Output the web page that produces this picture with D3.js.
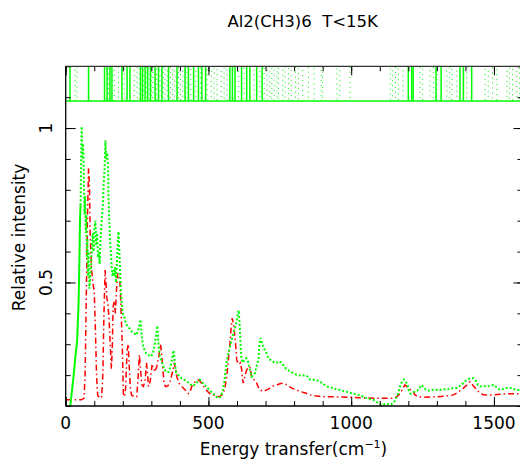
<!DOCTYPE html>
<html>
<head>
<meta charset="utf-8">
<script src="https://cdn.jsdelivr.net/npm/d3@7"></script>
<style>
  html, body { margin: 0; padding: 0; background: #fff; }
  svg { display: block; }
  text { font-family: "DejaVu Sans", sans-serif; fill: #000; }
</style>
</head>
<body>
<svg id="chart" width="520" height="461"></svg>
<script>
// ---------- DATA ----------
const title = "Al2(CH3)6  T<15K";
const xLabel = "Energy transfer(cm";
const xLabelSup = "\u22121";
const yLabel = "Relative intensity";
const xTickValues = [0, 500, 1000, 1500];
const xTickLabels = ["0", "500", "1000", "1500"];
const yTickValues = [0.5, 1];
const yTickLabels = ["0.5", "1"];

// Experimental spectrum (green, dotted)
const expEnergy = [12,16,22,28,34,40,45,48,50,52,54,56,58,60,62,64,66,68,70,72,74,76,78,80,83,86,89,92,95,98,101,104,107,110,113,116,119,122,126,130,133,136,139,142,145,148,150,152,155,158,161,164,167,170,173,176,179,182,185,188,191,194,197,200,205,210,215,220,225,232,240,248,255,262,266,270,276,282,290,298,305,312,318,321,325,330,338,345,352,360,368,374,378,382,387,395,405,415,425,435,447,458,470,480,490,500,510,518,527,535,543,550,556,561,565,570,575,580,586,592,598,603,606,609,612,615,620,626,632,638,645,651,657,663,669,675,679,682,686,692,698,704,710,716,724,732,740,748,756,764,772,780,790,800,812,825,838,848,856,868,880,892,904,916,930,945,960,975,990,1005,1020,1035,1050,1065,1078,1090,1100,1110,1122,1135,1147,1155,1162,1170,1178,1184,1190,1196,1202,1208,1216,1224,1232,1240,1247,1254,1262,1272,1284,1296,1310,1322,1334,1346,1358,1369,1378,1388,1398,1408,1418,1428,1436,1444,1452,1462,1475,1486,1498,1510,1521,1532,1545,1558,1570,1582,1595,1600];
const expIntensity = [0.08,0.10,0.15,0.20,0.26,0.31,0.43,0.57,0.70,0.75,0.88,1.005,0.90,0.95,0.92,0.80,0.72,0.78,0.66,0.72,0.58,0.64,0.52,0.60,0.48,0.52,0.55,0.62,0.66,0.60,0.68,0.70,0.62,0.66,0.58,0.60,0.56,0.64,0.70,0.75,0.82,0.86,0.96,0.90,0.92,0.88,0.78,0.72,0.64,0.60,0.55,0.52,0.54,0.52,0.55,0.50,0.56,0.62,0.665,0.60,0.52,0.46,0.43,0.40,0.39,0.37,0.36,0.355,0.35,0.34,0.335,0.33,0.35,0.38,0.33,0.30,0.28,0.27,0.265,0.26,0.27,0.30,0.34,0.36,0.30,0.26,0.24,0.22,0.21,0.21,0.23,0.26,0.28,0.24,0.21,0.20,0.19,0.185,0.18,0.17,0.165,0.175,0.185,0.175,0.165,0.155,0.145,0.14,0.13,0.125,0.13,0.15,0.18,0.22,0.25,0.27,0.29,0.31,0.33,0.35,0.37,0.40,0.41,0.37,0.31,0.26,0.24,0.25,0.255,0.245,0.22,0.195,0.20,0.207,0.23,0.25,0.30,0.32,0.31,0.29,0.28,0.27,0.255,0.25,0.245,0.24,0.24,0.245,0.24,0.23,0.22,0.215,0.21,0.205,0.20,0.198,0.20,0.195,0.185,0.185,0.183,0.178,0.17,0.163,0.16,0.155,0.152,0.148,0.145,0.14,0.137,0.133,0.127,0.123,0.12,0.112,0.106,0.103,0.108,0.104,0.109,0.12,0.135,0.16,0.18,0.186,0.18,0.172,0.15,0.14,0.143,0.148,0.15,0.16,0.168,0.16,0.152,0.15,0.152,0.153,0.152,0.155,0.153,0.156,0.158,0.158,0.163,0.17,0.18,0.186,0.19,0.19,0.182,0.168,0.163,0.165,0.163,0.165,0.168,0.16,0.152,0.155,0.158,0.158,0.155,0.152,0.152,0.15];

// Calculated spectrum (red, dash-dot)
const calcEnergy = [0,55,64,68,72,76,80,83,86,90,95,100,104,108,112,118,126,130,134,138,141,144,148,152,156,160,163,166,170,174,178,182,186,190,194,198,202,206,210,215,219,223,227,231,240,249,254,258,262,266,272,278,283,287,290,296,302,307,312,319,326,332,336,340,345,350,358,366,374,380,385,389,395,400,410,420,430,436,441,450,458,465,470,476,482,488,496,505,517,529,541,552,558,564,570,575,579,583,587,591,595,599,603,608,612,616,619,622,628,634,640,645,651,657,663,669,675,681,692,704,716,727,739,750,762,772,782,792,808,821,840,856,879,900,930,960,1007,1050,1100,1147,1160,1171,1180,1188,1196,1205,1212,1218,1223,1236,1253,1280,1300,1330,1358,1375,1393,1405,1416,1428,1440,1452,1463,1480,1498,1520,1545,1570,1600];
const calcIntensity = [0.12,0.12,0.125,0.20,0.45,0.70,0.87,0.82,0.65,0.55,0.50,0.47,0.35,0.20,0.135,0.125,0.13,0.20,0.40,0.54,0.50,0.45,0.43,0.38,0.30,0.22,0.28,0.42,0.44,0.40,0.476,0.53,0.52,0.50,0.41,0.30,0.14,0.13,0.16,0.28,0.30,0.22,0.15,0.135,0.13,0.13,0.20,0.266,0.22,0.17,0.163,0.18,0.24,0.20,0.163,0.18,0.23,0.228,0.21,0.228,0.26,0.30,0.27,0.22,0.17,0.163,0.165,0.18,0.21,0.24,0.22,0.195,0.18,0.168,0.16,0.15,0.14,0.145,0.163,0.175,0.183,0.185,0.18,0.174,0.165,0.158,0.148,0.14,0.136,0.13,0.132,0.14,0.16,0.195,0.25,0.30,0.35,0.384,0.37,0.34,0.30,0.25,0.24,0.235,0.24,0.22,0.19,0.174,0.20,0.217,0.225,0.228,0.195,0.19,0.18,0.174,0.16,0.152,0.147,0.152,0.158,0.165,0.168,0.172,0.174,0.17,0.163,0.158,0.152,0.147,0.142,0.136,0.132,0.13,0.13,0.129,0.128,0.126,0.125,0.125,0.13,0.14,0.155,0.168,0.162,0.155,0.15,0.147,0.136,0.13,0.128,0.129,0.13,0.132,0.136,0.145,0.158,0.168,0.179,0.165,0.152,0.142,0.136,0.135,0.136,0.138,0.14,0.14,0.14];

// Mode positions shown in the top strip
const solidModes = [15,80,136,145,155,162,197,215,225,262,269,278,287,297,313,325,337,360,390,418,430,448,465,477,490,575,584,593,616,634,645,669,688,1200,1212,1217,1297,1315,1381,1393,1422];
const dottedModes = [33,40,150,170,185,205,240,250,258,272,282,292,300,305,318,330,342,348,355,367,375,382,395,402,410,425,438,455,472,495,510,520,530,545,555,565,605,625,660,680,695,705,715,722,730,740,745,760,768,780,790,805,815,830,850,870,895,900,950,960,996,1137,1145,1155,1165,1182,1241,1250,1276,1288,1300,1335,1345,1353,1370,1405,1469,1480,1495,1510,1546,1555,1565,1580,1590];
const stripBase = 1.088;
const stripTop = 1.2;
const solidRiseEnd = 52; // the initial steep rise of the measured curve is drawn solid

// ---------- CHART ----------
const svg = d3.select("#chart");
const x = d3.scaleLinear().domain([0, 1600]).range([65.7, 522.5]);
const y = d3.scaleLinear().domain([0.1, 1.2]).range([406, 66.3]);

svg.append("defs").append("clipPath").attr("id", "plotclip")
  .append("rect").attr("x", x(0)).attr("y", y(1.2))
  .attr("width", x(1600) - x(0)).attr("height", y(0.1) - y(1.2));

const plot = svg.append("g").attr("clip-path", "url(#plotclip)");

// top strip: mode lines
plot.selectAll("line.dotted").data(dottedModes).enter().append("line")
  .attr("x1", d => x(d)).attr("x2", d => x(d))
  .attr("y1", y(stripBase)).attr("y2", y(stripTop))
  .attr("stroke", "#00ee00").attr("stroke-width", 1)
  .attr("stroke-dasharray", "1,4")
  .attr("stroke-dashoffset", (d, i) => (i * 1.7) % 5);
plot.selectAll("line.solid").data(solidModes).enter().append("line")
  .attr("x1", d => x(d)).attr("x2", d => x(d))
  .attr("y1", y(stripBase)).attr("y2", y(stripTop))
  .attr("stroke", "#00ff00").attr("stroke-width", 1.5);
plot.append("line")
  .attr("x1", x(0)).attr("x2", x(1600))
  .attr("y1", y(stripBase)).attr("y2", y(stripBase))
  .attr("stroke", "#00ff00").attr("stroke-width", 1.5);

// curves
const line = d3.line().x(d => x(d[0])).y(d => y(d[1]));
const calcData = calcEnergy.map((e, i) => [e, calcIntensity[i]]);
const expData = expEnergy.map((e, i) => [e, expIntensity[i]]);

plot.append("path").datum(calcData).attr("d", line)
  .attr("fill", "none").attr("stroke", "#ff0000").attr("stroke-width", 1.5)
  .attr("stroke-dasharray", "6,3,1.5,3");
plot.append("path").datum(expData.filter(d => d[0] <= solidRiseEnd)).attr("d", line)
  .attr("fill", "none").attr("stroke", "#00ff00").attr("stroke-width", 2);
plot.append("path").datum(expData.filter(d => d[0] >= solidRiseEnd)).attr("d", line)
  .attr("fill", "none").attr("stroke", "#00ff00").attr("stroke-width", 2)
  .attr("stroke-dasharray", "2,2");

// ---------- AXES ----------
const axG = svg.append("g");
function styleAxis(g) {
  g.select(".domain").remove();
  g.selectAll(".tick line").attr("stroke", "#000").attr("stroke-width", 1);
  g.selectAll(".tick text").remove();
}
const minorX = d3.range(0, 1601, 100);
const minorY = d3.range(0.1, 1.201, 0.1);
axG.append("g").attr("transform", `translate(0,${y(0.1)})`)
  .call(d3.axisBottom(x).tickValues(minorX).tickSize(-5)).call(styleAxis);
axG.append("g").attr("transform", `translate(0,${y(0.1)})`)
  .call(d3.axisBottom(x).tickValues(xTickValues).tickSize(-9)).call(styleAxis);
axG.append("g").attr("transform", `translate(0,${y(1.2)})`)
  .call(d3.axisTop(x).tickValues(minorX).tickSize(-5)).call(styleAxis);
axG.append("g").attr("transform", `translate(0,${y(1.2)})`)
  .call(d3.axisTop(x).tickValues(xTickValues).tickSize(-9)).call(styleAxis);
axG.append("g").attr("transform", `translate(${x(0)},0)`)
  .call(d3.axisLeft(y).tickValues(minorY).tickSize(-5)).call(styleAxis);
axG.append("g").attr("transform", `translate(${x(0)},0)`)
  .call(d3.axisLeft(y).tickValues(yTickValues).tickSize(-10)).call(styleAxis);
axG.append("g").attr("transform", `translate(${x(1600)},0)`)
  .call(d3.axisRight(y).tickValues(minorY).tickSize(-5)).call(styleAxis);
axG.append("g").attr("transform", `translate(${x(1600)},0)`)
  .call(d3.axisRight(y).tickValues(yTickValues).tickSize(-9)).call(styleAxis);

// frame lines
axG.append("line").attr("x1", x(0)).attr("x2", x(1600)).attr("y1", y(0.1)).attr("y2", y(0.1))
  .attr("stroke", "#000").attr("stroke-width", 1.3);
axG.append("line").attr("x1", x(0)).attr("x2", x(1600)).attr("y1", y(1.2)).attr("y2", y(1.2))
  .attr("stroke", "#333").attr("stroke-width", 1.3);
axG.append("line").attr("x1", x(0)).attr("x2", x(0)).attr("y1", y(0.1)).attr("y2", y(1.2))
  .attr("stroke", "#000").attr("stroke-width", 1.3);
axG.append("line").attr("x1", x(1600)).attr("x2", x(1600)).attr("y1", y(0.1)).attr("y2", y(1.2))
  .attr("stroke", "#000").attr("stroke-width", 1.3);

// tick labels
svg.selectAll("text.xt").data(xTickValues).enter().append("text")
  .attr("x", d => x(d)).attr("y", 429)
  .attr("text-anchor", "middle").attr("font-size", 17)
  .text((d, i) => xTickLabels[i]);
svg.selectAll("text.yt").data(yTickValues).enter().append("text")
  .attr("transform", d => `translate(51.5,${y(d)}) rotate(-90)`)
  .attr("text-anchor", "middle").attr("font-size", 17)
  .text((d, i) => yTickLabels[i]);

// titles
svg.append("text").attr("x", 302.7).attr("y", 27)
  .attr("text-anchor", "middle").attr("font-size", 16.5)
  .style("white-space", "pre").text(title);
const xt = svg.append("text").attr("x", 293.5).attr("y", 455)
  .attr("text-anchor", "middle").attr("font-size", 17);
xt.append("tspan").text(xLabel);
xt.append("tspan").attr("font-size", 11).attr("dy", -7).text(xLabelSup);
xt.append("tspan").attr("dy", 7).text(")");
svg.append("text").attr("transform", "translate(25,237.5) rotate(-90)")
  .attr("text-anchor", "middle").attr("font-size", 17).text(yLabel);
</script>
</body>
</html>
